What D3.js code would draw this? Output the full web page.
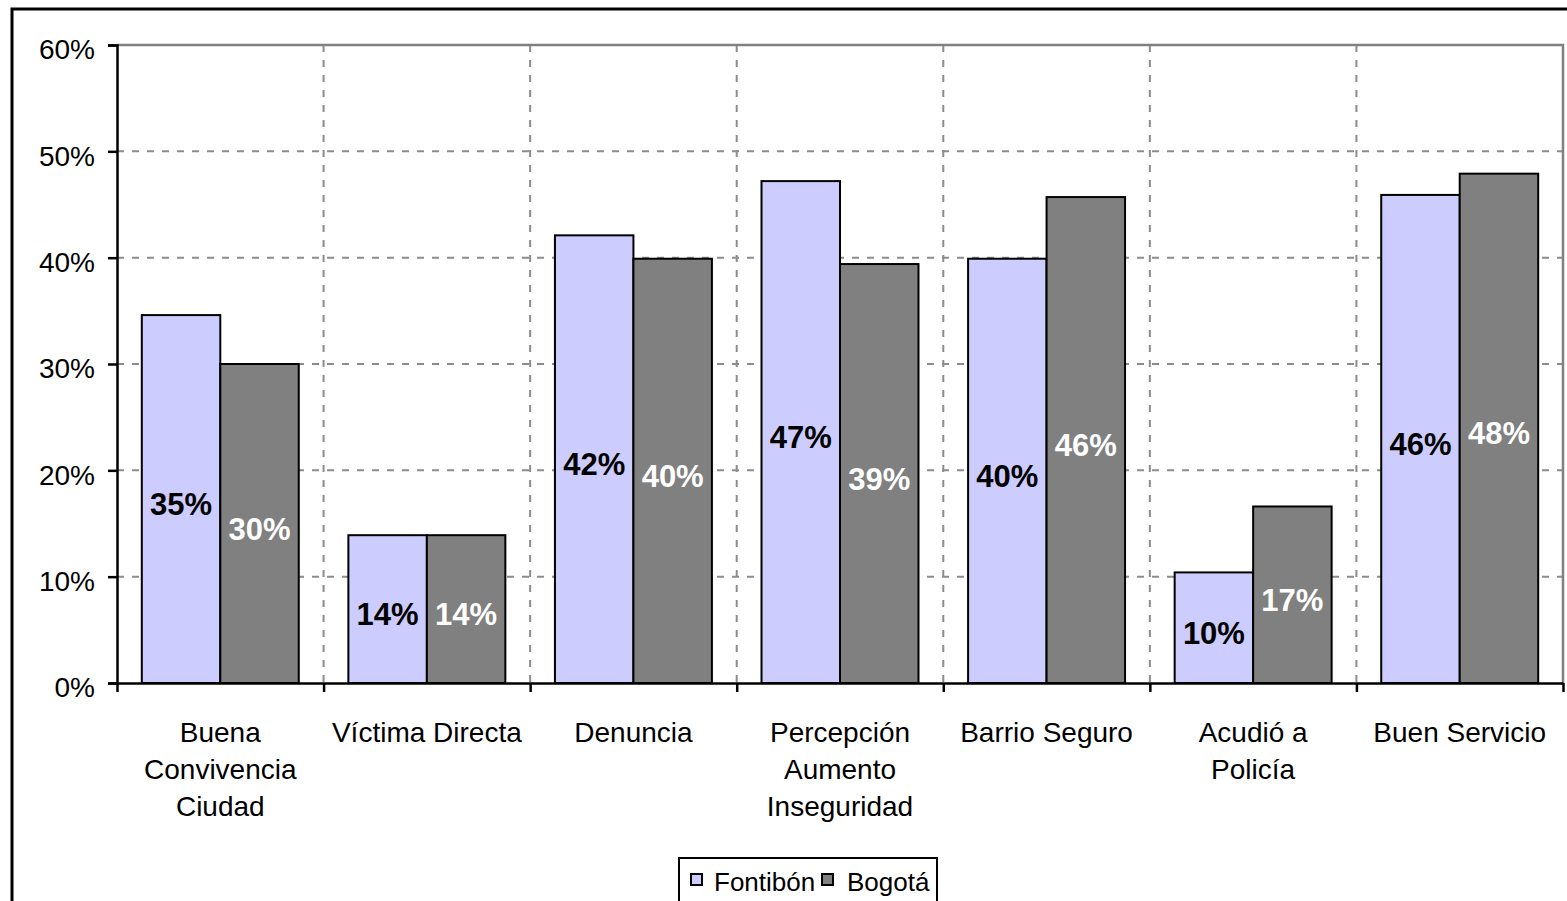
<!DOCTYPE html>
<html>
<head>
<meta charset="utf-8">
<script src="https://cdn.jsdelivr.net/npm/d3@7"></script>
<style>
  body { margin: 0; background: #fff; }
  svg { display: block; font-family: 'Liberation Sans', Arial, sans-serif; }
</style>
</head>
<body>
<svg id="chart" width="1567" height="901"></svg>
<script>
'use strict'

// chart data
var categories = [
  ['Buena', 'Convivencia', 'Ciudad'],
  ['Víctima Directa'],
  ['Denuncia'],
  ['Percepción', 'Aumento', 'Inseguridad'],
  ['Barrio Seguro'],
  ['Acudió a', 'Policía'],
  ['Buen Servicio']
]
var seriesNames = ['Fontibón', 'Bogotá']
var fontibon = [34.6, 13.9, 42.1, 47.2, 39.9, 10.4, 45.9]
var bogota = [30.0, 13.9, 39.9, 39.4, 45.7, 16.6, 47.9]
var yTicks = [0, 10, 20, 30, 40, 50, 60]

var colors = ['#ccccff', '#808080']
var labelColors = ['#000', '#fff']

var svg = d3.select('#chart')
var plotLeft = 117
var plotRight = 1563
var plotTop = 45
var plotBottom = 683

var x = d3.scaleBand()
  .domain(d3.range(categories.length))
  .range([plotLeft, plotRight])
var y = d3.scaleLinear()
  .domain([0, 60])
  .range([plotBottom, plotTop])
var inner = d3.scaleBand()
  .domain([0, 1])
  .range([0, x.bandwidth()])
  .paddingOuter(0.316)
  .paddingInner(0)

// outer frame
svg.append('rect')
  .attr('x', 12).attr('y', 9)
  .attr('width', 1600).attr('height', 950)
  .attr('fill', 'none')
  .attr('stroke', '#000')
  .attr('stroke-width', 3)

// horizontal grid
svg.append('g')
  .selectAll('line')
  .data(yTicks.filter((d) => d > 0 && d < 60))
  .enter().append('line')
    .attr('x1', plotLeft).attr('x2', plotRight)
    .attr('y1', (d) => y(d)).attr('y2', (d) => y(d))
    .attr('stroke', '#8c8c8c')
    .attr('stroke-width', 2)
    .attr('stroke-dasharray', '7,8')

// vertical grid at category boundaries
svg.append('g')
  .selectAll('line')
  .data(d3.range(1, categories.length))
  .enter().append('line')
    .attr('x1', (d) => x(d)).attr('x2', (d) => x(d))
    .attr('y1', plotTop).attr('y2', plotBottom)
    .attr('stroke', '#8c8c8c')
    .attr('stroke-width', 2)
    .attr('stroke-dasharray', '7,8')

// plot border top and right
svg.append('path')
  .attr('d', 'M' + plotLeft + ',' + plotTop + 'H' + plotRight + 'V' + plotBottom)
  .attr('fill', 'none')
  .attr('stroke', '#808080')
  .attr('stroke-width', 2.5)

// bars
var series = [fontibon, bogota]
series.forEach((vals, s) => {
  var g = svg.append('g')
  g.selectAll('rect')
    .data(vals)
    .enter().append('rect')
      .attr('x', (d, i) => x(i) + inner(s))
      .attr('y', (d) => y(d))
      .attr('width', inner.bandwidth())
      .attr('height', (d) => plotBottom - y(d))
      .attr('fill', colors[s])
      .attr('stroke', '#000')
      .attr('stroke-width', 2)

  g.selectAll('text')
    .data(vals)
    .enter().append('text')
      .attr('x', (d, i) => x(i) + inner(s) + inner.bandwidth() / 2)
      .attr('y', (d) => (y(d) + plotBottom) / 2)
      .attr('dy', '0.52em')
      .attr('text-anchor', 'middle')
      .attr('font-size', 31)
      .attr('font-weight', 'bold')
      .attr('fill', labelColors[s])
      .text((d) => Math.round(d) + '%')
})

// y axis
var yAxis = svg.append('g')
  .attr('transform', 'translate(' + plotLeft + ',0)')
  .call(d3.axisLeft(y).tickValues(yTicks).tickFormat((d) => d + '%').tickSize(9).tickPadding(13))
yAxis.select('.domain').attr('stroke-width', 2.5)
yAxis.selectAll('.tick line').attr('stroke-width', 2.5)
yAxis.selectAll('text').attr('font-size', 28).attr('fill', '#000')
  .attr('y', 5)
  .attr('font-family', "'Liberation Sans', Arial, sans-serif")

// x axis
var xEdge = d3.scaleLinear().domain([0, categories.length]).range([plotLeft, plotRight])
var xAxis = svg.append('g')
  .attr('transform', 'translate(0,' + plotBottom + ')')
  .call(d3.axisBottom(xEdge).ticks(categories.length).tickFormat('').tickSize(9).tickSizeOuter(0))
xAxis.select('.domain').attr('stroke-width', 2.5)
xAxis.selectAll('.tick line').attr('stroke-width', 2.5)

// category labels
svg.append('g')
  .selectAll('text')
  .data(categories)
  .enter().append('text')
    .attr('x', (d, i) => x(i) + x.bandwidth() / 2)
    .attr('y', 742)
    .attr('text-anchor', 'middle')
    .attr('font-size', 28)
    .selectAll('tspan')
    .data((d) => d)
    .enter().append('tspan')
      .attr('x', function () { return this.parentNode.getAttribute('x') })
      .attr('dy', (d, i) => i === 0 ? 0 : 37)
      .text((d) => d)

// legend
var legend = svg.append('g')
legend.append('rect')
  .attr('x', 679).attr('y', 858)
  .attr('width', 258).attr('height', 60)
  .attr('fill', '#fff')
  .attr('stroke', '#000')
  .attr('stroke-width', 2)
var legendX = [691, 822]
var legendTextX = [714, 847]
seriesNames.forEach((name, s) => {
  legend.append('rect')
    .attr('x', legendX[s]).attr('y', 874)
    .attr('width', 11).attr('height', 11)
    .attr('fill', colors[s])
    .attr('stroke', '#000')
    .attr('stroke-width', 2)
  legend.append('text')
    .attr('x', legendTextX[s])
    .attr('y', 891)
    .attr('font-size', 26)
    .text(name)
})
</script>
</body>
</html>
